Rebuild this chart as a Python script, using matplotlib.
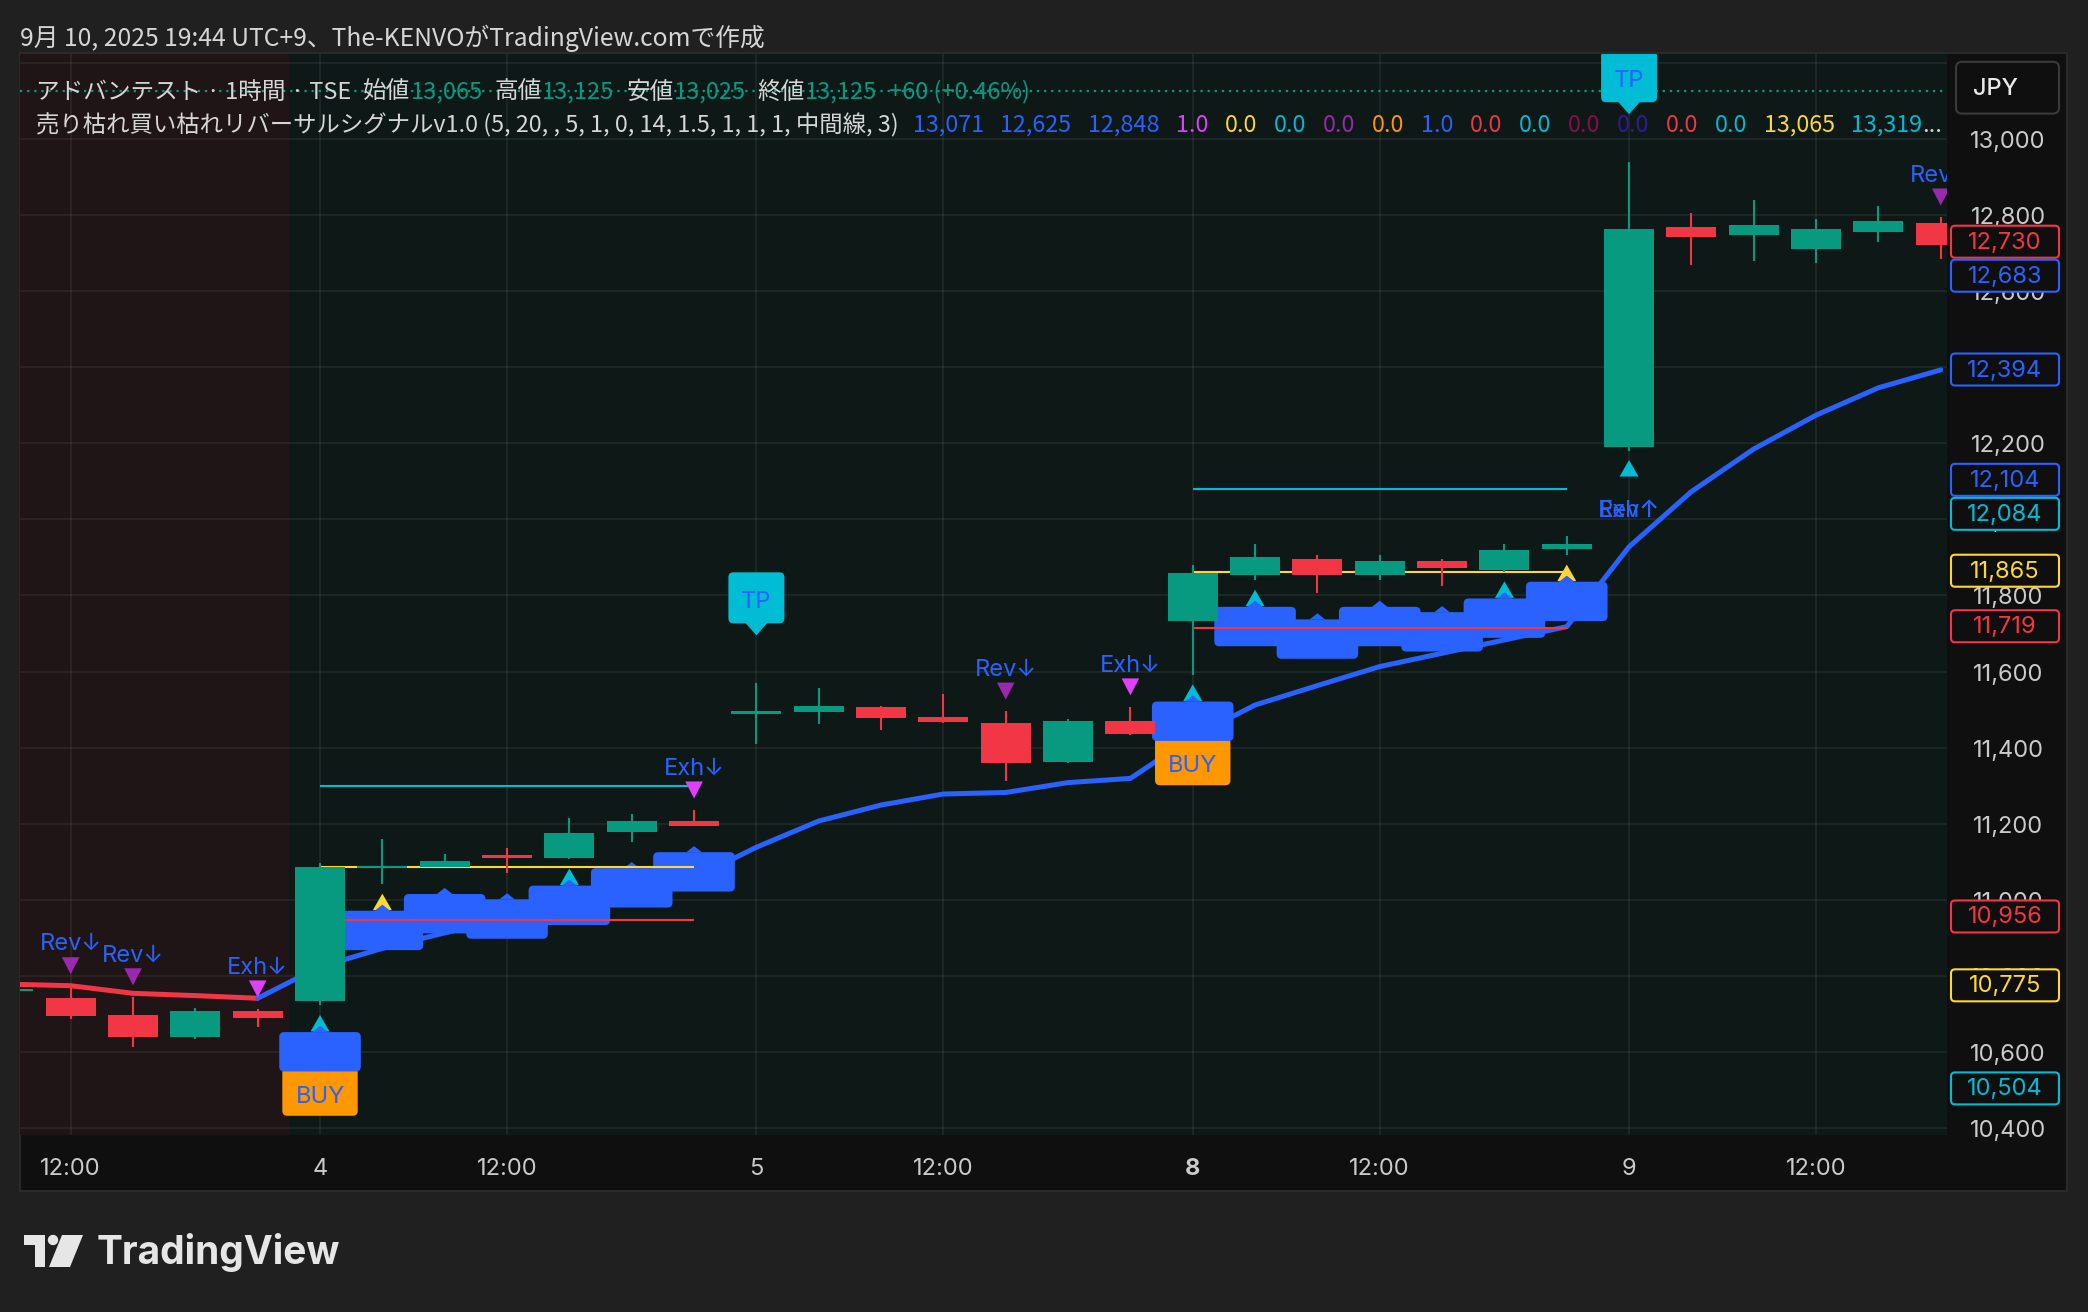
import numpy as np
import matplotlib
matplotlib.use("Agg")
import matplotlib.pyplot as plt
from matplotlib.patches import FancyBboxPatch, Polygon, Rectangle, Circle
from matplotlib.transforms import IdentityTransform


# ==========================================
# Chart data (1h bars, 3 Sep 11:00 -> 9 Sep 14:00)
# ==========================================

OPEN = [10759, 10742, 10697, 10640, 10708,
        10735, 11085, 11085, 11116, 11110, 11179, 11207,
        11490, 11494, 11507, 11480, 11465, 11363, 11470,
        11734, 11855, 11896, 11855, 11890, 11867, 11922,
        12189, 12769, 12748, 12711, 12755, 12779]
HIGH = [10772, 10774, 10745, 10715, 10713,
        11096, 11161, 11120, 11135, 11214, 11225, 11236,
        11569, 11556, 11509, 11541, 11496, 11474, 11507,
        11880, 11935, 11906, 11906, 11896, 11935, 11956,
        12939, 12805, 12840, 12790, 12825, 12795]
LOW = [10750, 10687, 10614, 10633, 10666,
       10722, 11041, 11085, 11071, 11107, 11153, 11195,
       11409, 11462, 11446, 11465, 11311, 11360, 11433,
       11591, 11840, 11807, 11840, 11826, 11862, 11906,
       12181, 12669, 12679, 12675, 12730, 12685]
CLOSE = [10766, 10695, 10640, 10708, 10690,
         11085, 11088, 11102, 11111, 11175, 11207, 11195,
         11495, 11509, 11479, 11467, 11360, 11470, 11435,
         11859, 11900, 11855, 11890, 11873, 11919, 11935,
         12763, 12743, 12774, 12763, 12784, 12721]

# middle line of the indicator (red while bearish, blue afterwards)
MID_LINE = [10778, 10774, 10754, 10748, 10741,
            10824, 10872, 10913, 10950, 10990, 11025, 11057,
            11138, 11207, 11249, 11278, 11282, 11308, 11319,
            11428, 11512, 11563, 11613, 11648, 11683, 11718,
            11928, 12073, 12185, 12274, 12346, 12393]
MID_RED_UNTIL = 4

BEARISH_BG_UNTIL = 4.5   # red background covers 3 Sep

TIME_TICK_BARS = [1, 5, 8, 12, 15, 19, 22, 26, 29]
TIME_TICK_LABELS = ["12:00", "4", "12:00", "5", "12:00", "8", "12:00", "9", "12:00"]
WEEK_START_LABEL = "8"

PRICE_TICKS = list(range(10400, 13001, 200))
GRID_PRICES = list(range(10400, 13201, 200))

LAST_PRICE = 13125

# signals
BLUE_LABEL_BARS = [5, 6, 7, 8, 9, 10, 11, 19, 20, 21, 22, 23, 24, 25]
BUY_BARS = [5, 19]
UP_CYAN_BARS = [5, 9, 19, 20, 24, 26]
UP_YELLOW_BARS = [6, 25]
REV_DOWN_BARS = [1, 2, 16, 31]
EXH_DOWN_BARS = [4, 11, 18]
TP_BARS = [12, 26]
REV_EXH_UP_BARS = [26]

# horizontal levels drawn from the buy bars
LEVEL_START = [5, 5, 5, 19, 19, 19]
LEVEL_END = [11, 11, 11, 25, 25, 25]
LEVEL_PRICE = [11087, 10948, 11300, 11862, 11715, 12081]
LEVEL_COLOR = ["#fdd835", "#f23645", "#00bcd4", "#fdd835", "#f23645", "#00bcd4"]

# price scale labels
SCALE_LABEL_VALUES = [12730, 12683, 12394, 12104, 12084, 11865, 11719, 10956, 10775, 10504]
SCALE_LABEL_COLORS = ["#f23645", "#2962ff", "#2962ff", "#2962ff", "#00bcd4",
                      "#fdd835", "#f23645", "#f23645", "#fdd835", "#00bcd4"]

# header texts
TITLE = "9月 10, 2025 19:44 UTC+9、The-KENVOがTradingView.comで作成"
SYMBOL = "アドバンテスト · 1時間 · TSE"
OHLC_NAMES = ["始値", "高値", "安値", "終値"]
OHLC_VALUES = ["13,065", "13,125", "13,025", "13,125"]
CHANGE = "+60 (+0.46%)"
INDICATOR = "売り枯れ買い枯れリバーサルシグナルv1.0 (5, 20, , 5, 1, 0, 14, 1.5, 1, 1, 1, 中間線, 3)"
IND_VALUES = ["13,071", "12,625", "12,848", "1.0", "0.0", "0.0", "0.0", "0.0", "1.0",
              "0.0", "0.0", "0.0", "0.0", "0.0", "0.0", "13,065", "13,319"]
IND_COLORS = ["#2962ff", "#2962ff", "#2962ff", "#e040fb", "#fdd835", "#00bcd4", "#9c27b0",
              "#ff9800", "#2962ff", "#f23645", "#00bcd4", "#880e4f", "#311b92", "#f23645",
              "#00bcd4", "#fdd835", "#00bcd4"]


# ==========================================
# Style
# ==========================================

W, H = 2088, 1312
DPI = 100

OUTER_BG = "#202020"
PANEL_BG = "#0f0f0f"
GREEN_BG = "#0e1917"
RED_BG = "#201516"
GRID = (1, 1, 1, 0.06)
TEXT = "#d6d6d6"
AXIS_TEXT = "#cacaca"
UP = "#089981"
DOWN = "#f23645"
BLUE = "#2962ff"
CYAN = "#00bcd4"
YELLOW = "#fdd835"
ORANGE = "#ff9800"
PURPLE = "#9c27b0"
MAGENTA = "#e040fb"

LATIN = ["Inter", "DejaVu Sans"]
CJK = ["Noto Sans CJK JP", "DejaVu Sans"]

PLOT_L, PLOT_R = 20, 1947
PLOT_T, PLOT_B = 54, 1135
X_MIN, X_MAX = 0.187, 31.10
Y_MIN, Y_MAX = 10381.5, 13223.5

FS = 17
V_ADJ = 3          # matplotlib centres on the full line box, glyphs sit a bit high
PIX = IdentityTransform()


# ==========================================
# Figure & panels
# ==========================================

fig = plt.figure(figsize=(W / DPI, H / DPI), dpi=DPI, facecolor=OUTER_BG)

bg = fig.add_axes([0, 0, 1, 1], zorder=0)
bg.set_xlim(0, W)
bg.set_ylim(0, H)
bg.axis("off")
bg.add_patch(Rectangle((20, H - 1191), 2047, 1138, fc=PANEL_BG, ec="#2a2a2a", lw=1.5))

ax = fig.add_axes([PLOT_L / W, (H - PLOT_B) / H, (PLOT_R - PLOT_L) / W, (PLOT_B - PLOT_T) / H],
                  zorder=1)
ax.set_xlim(X_MIN, X_MAX)
ax.set_ylim(Y_MIN, Y_MAX)
ax.set_axis_off()

ov = fig.add_axes([0, 0, 1, 1], zorder=3)
ov.set_xlim(0, W)
ov.set_ylim(0, H)
ov.axis("off")


def px(i, price):
    return ax.transData.transform((i, price))


# backgrounds and grid
ax.axvspan(X_MIN, BEARISH_BG_UNTIL, color=RED_BG, lw=0, zorder=0)
ax.axvspan(BEARISH_BG_UNTIL, X_MAX, color=GREEN_BG, lw=0, zorder=0)
for p in GRID_PRICES:
    ax.axhline(p, color=GRID, lw=1.4, zorder=0.5)
for b in TIME_TICK_BARS:
    ax.axvline(b, color=GRID, lw=1.4, zorder=0.5)

ax.axhline(LAST_PRICE, color=UP, lw=1.6, ls=(0, (1, 2.2)), zorder=0.8)


# ==========================================
# Middle line
# ==========================================

bars = np.arange(len(OPEN))
mid = np.array(MID_LINE)
ax.plot(bars[:MID_RED_UNTIL + 1], mid[:MID_RED_UNTIL + 1], color=DOWN, lw=3.6,
        solid_capstyle="round", solid_joinstyle="round", zorder=1)
ax.plot(bars[MID_RED_UNTIL:], mid[MID_RED_UNTIL:], color=BLUE, lw=3.6,
        solid_capstyle="round", solid_joinstyle="round", zorder=1)


# ==========================================
# Signal markers
# ==========================================

def round_box(x0, y0, w, h, color, z, r=5):
    ax.add_patch(FancyBboxPatch((x0, y0), w, h, boxstyle=f"round,pad=0,rounding_size={r}",
                                transform=PIX, fc=color, ec="none", zorder=z))


def triangle(points, color, z):
    ax.add_patch(Polygon(points, closed=True, transform=PIX, fc=color, ec="none", zorder=z))


def label_text(x, y, s, z=5.5, size=FS):
    ax.text(x, y - V_ADJ, s, transform=PIX, color=BLUE, fontsize=size, family=LATIN,
            ha="center", va="center", zorder=z, clip_on=True)


for i in UP_CYAN_BARS + UP_YELLOW_BARS:
    col = CYAN if i in UP_CYAN_BARS else YELLOW
    xp, yp = px(i, LOW[i])
    triangle([(xp - 9.5, yp - 26), (xp + 9.5, yp - 26), (xp, yp - 9.5)], col, 2)

for i in BUY_BARS:
    xp, yp = px(i, LOW[i])
    round_box(xp - 37.7, yp - 110.3, 75.4, 48, ORANGE, 2.2)
    label_text(xp, yp - 88.5, "BUY", z=2.3)

for i in BLUE_LABEL_BARS:
    xp, yp = px(i, LOW[i])
    round_box(xp - 40.8, yp - 66, 81.6, 39.4, BLUE, 2.5)
    triangle([(xp - 8, yp - 26.8), (xp + 8, yp - 26.8), (xp, yp - 20.5)], BLUE, 2.5)

for i in REV_EXH_UP_BARS:
    xp, yp = px(i, LOW[i])
    label_text(xp, yp - 57, "Rev↑")
    label_text(xp, yp - 57, "Exh↑")

for i in REV_DOWN_BARS + EXH_DOWN_BARS:
    rev = i in REV_DOWN_BARS
    xp, yp = px(i, HIGH[i])
    triangle([(xp - 8.8, yp + 28.5), (xp + 8.8, yp + 28.5), (xp, yp + 11.5)],
             PURPLE if rev else MAGENTA, 5)
    label_text(xp, yp + 44.5, "Rev↓" if rev else "Exh↓")

for i in TP_BARS:
    xp, yp = px(i, HIGH[i])
    round_box(xp - 28, yp + 60, 56, 51, CYAN, 5)
    triangle([(xp - 11, yp + 60.5), (xp + 11, yp + 60.5), (xp, yp + 48)], CYAN, 5)
    label_text(xp, yp + 84, "TP", z=5.6)


# ==========================================
# Levels and candles
# ==========================================

ax.hlines(LEVEL_PRICE, LEVEL_START, LEVEL_END, colors=LEVEL_COLOR, lw=1.5, zorder=3)

o, h, l, c = (np.array(v, dtype=float) for v in (OPEN, HIGH, LOW, CLOSE))
colors = np.where(c >= o, UP, DOWN)
min_body = 6.0
body = np.abs(c - o)
body_bottom = np.where(body < min_body, (o + c) / 2 - min_body / 2, np.minimum(o, c))
ax.vlines(bars, l, h, colors=colors, lw=1.5, zorder=4)
ax.bar(bars, np.maximum(body, min_body), width=0.8, bottom=body_bottom,
       color=colors, lw=0, zorder=4.1)


# ==========================================
# Price scale
# ==========================================

def py(price):
    return px(0, price)[1]


for p in PRICE_TICKS:
    ov.text(2008, py(p) - V_ADJ, f"{p:,}", color=AXIS_TEXT, fontsize=FS, family=LATIN,
            ha="center", va="center", zorder=1)

prev = None
for val, col in sorted(zip(SCALE_LABEL_VALUES, SCALE_LABEL_COLORS), key=lambda t: -t[0]):
    y = py(val)
    if prev is not None and prev - y < 34:
        y = prev - 34
    prev = y
    ov.add_patch(FancyBboxPatch((1951, y - 16), 108, 32, boxstyle="round,pad=0,rounding_size=4",
                                fc=PANEL_BG, ec=col, lw=1.5, zorder=2))
    ov.text(2005, y - 1, f"{val:,}", color=col, fontsize=FS, family=LATIN,
            ha="center", va="center", zorder=3)

ov.add_patch(FancyBboxPatch((1956, H - 113.6), 103, 51.8, boxstyle="round,pad=0,rounding_size=6",
                            fc=PANEL_BG, ec="#3a3a3a", lw=1.5, zorder=2))
ov.text(1996, H - 89, "JPY", color="#e8e8e8", fontsize=FS, family=LATIN, weight="medium",
        ha="center", va="center", zorder=3)


# ==========================================
# Time scale
# ==========================================

for b, lab in zip(TIME_TICK_BARS, TIME_TICK_LABELS):
    ov.text(px(b, 0)[0], H - 1166 - V_ADJ, lab, color=AXIS_TEXT, fontsize=FS, family=LATIN,
            weight="bold" if lab == WEEK_START_LABEL else "normal",
            ha="center", va="center")


# ==========================================
# Header
# ==========================================

renderer = fig.canvas.get_renderer()


def text_run(x, y, parts, size=FS):
    for s, col, gap in parts:
        t = ov.text(x, y, s, color=col, fontsize=size, family=CJK, ha="left", va="center", zorder=5)
        x += t.get_window_extent(renderer).width + gap
    return x


ov.text(20, H - 38, TITLE, color=TEXT, fontsize=17.8, family=CJK, ha="left", va="center")

line1 = [(SYMBOL, TEXT, 12)]
for name, val in zip(OHLC_NAMES, OHLC_VALUES):
    line1 += [(name, TEXT, 0), (val, UP, 12)]
line1 += [(CHANGE, UP, 0)]
text_run(36, H - 92, line1)

line2 = [(INDICATOR, TEXT, 14)]
line2 += [(v, col, 16.6) for v, col in zip(IND_VALUES[:-1], IND_COLORS[:-1])]
line2 += [(IND_VALUES[-1], IND_COLORS[-1], 0), ("...", TEXT, 0)]
text_run(36, H - 125, line2, size=16.85)


# ==========================================
# TradingView logo
# ==========================================

logo_col = "#e6e6e6"
ov.add_patch(Polygon([(24, H - 1235), (45, H - 1235), (45, H - 1267), (35, H - 1267),
                      (35, H - 1245), (24, H - 1245)], closed=True, fc=logo_col, ec="none"))
ov.add_patch(Circle((53, H - 1240), 5.2, fc=logo_col, ec="none"))
ov.add_patch(Polygon([(49, H - 1267), (62, H - 1235), (83, H - 1235), (70, H - 1267)],
                     closed=True, fc=logo_col, ec="none"))
ov.text(97, H - 1252, "TradingView", color=logo_col, fontsize=28, family=LATIN, weight="bold",
        ha="left", va="center")

fig.savefig("out.png", dpi=DPI, facecolor=OUTER_BG)
